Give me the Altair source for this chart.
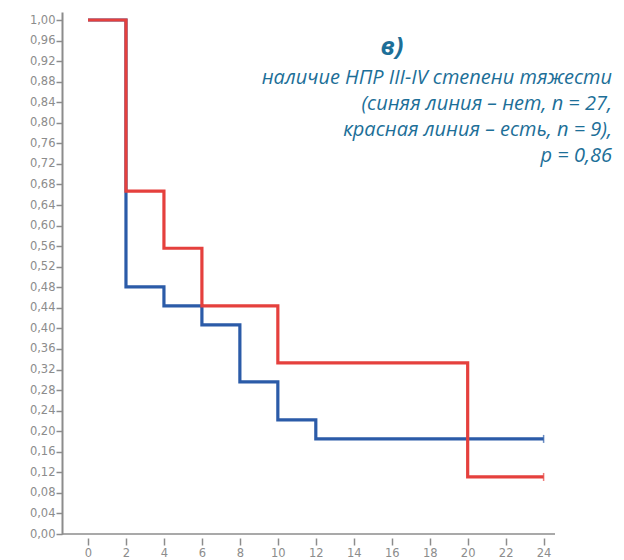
import altair as alt
import pandas as pd

# Kaplan-Meier step data
red_time = [0, 2, 4, 6, 10, 20, 24]
red_surv = [1.00, 0.667, 0.556, 0.444, 0.333, 0.111, 0.111]
blue_time = [0, 2, 4, 6, 8, 10, 12, 24]
blue_surv = [1.00, 0.481, 0.444, 0.407, 0.296, 0.222, 0.185, 0.185]

x_ticks = list(range(0, 25, 2))
y_ticks = [round(i * 0.04, 2) for i in range(26)]

title_main = "в)"
title_lines = [
    "наличие НПР III-IV степени тяжести",
    "(синяя линия – нет, n = 27,",
    "красная линия – есть, n = 9),",
    "p = 0,86",
]

RED = "#e5403d"
BLUE = "#2b5ba8"
TEXT = "#1d6f98"
GREY = "#8c8c8c"

W, H = 493, 522
XDOM = [-1.37, 24.6]
YDOM = [0, 1.0156]

red_df = pd.DataFrame({"t": red_time, "s": red_surv})
blue_df = pd.DataFrame({"t": blue_time, "s": blue_surv})

xs = alt.Scale(domain=XDOM, nice=False, zero=False)
ys = alt.Scale(domain=YDOM, nice=False)

x_axis = alt.Axis(
    values=x_ticks,
    tickCount=13,
    title=None,
    domain=False,
    grid=False,
    offset=4,
    tickSize=7,
    tickWidth=1.5,
    tickColor=GREY,
    labelColor=GREY,
    labelFontSize=11.5,
    labelFont="DejaVu Sans",
    labelPadding=2,
    labelOverlap=False,
    labelBound=False,
)
y_axis = alt.Axis(
    values=y_ticks,
    tickCount=26,
    title=None,
    grid=False,
    domainColor=GREY,
    domainWidth=2,
    tickColor=GREY,
    tickWidth=1.5,
    tickSize=6,
    labelColor=GREY,
    labelFontSize=11.5,
    labelFont="DejaVu Sans",
    labelPadding=1,
    labelOverlap=False,
    labelBound=False,
    labelFlush=False,
    labelExpr="replace(format(datum.value, '.2f'), '.', ',')",
)


def enc(ch):
    return ch.encode(
        x=alt.X("t:Q", scale=xs, axis=x_axis),
        y=alt.Y("s:Q", scale=ys, axis=y_axis),
    )


blue_line = enc(alt.Chart(blue_df).mark_line(
    interpolate="step-after", color=BLUE, strokeWidth=3.2))
red_line = enc(alt.Chart(red_df).mark_line(
    interpolate="step-after", color=RED, strokeWidth=3.2))

blue_end = enc(alt.Chart(blue_df.tail(1)).mark_tick(
    color=BLUE, orient="vertical", size=8, thickness=1.5))
red_end = enc(alt.Chart(red_df.tail(1)).mark_tick(
    color=RED, orient="vertical", size=8, thickness=1.5))

baseline = alt.Chart(pd.DataFrame({"a": [0]})).mark_rule(
    color=GREY, strokeWidth=1.5
).encode(x=alt.value(0), x2=alt.value(W), y=alt.value(H))

head = alt.Chart(pd.DataFrame({"txt": [title_main]})).mark_text(
    font="Open Sans", fontSize=25, fontWeight="bold", fontStyle="italic",
    color=TEXT, align="center", baseline="middle"
).encode(text="txt:N", x=alt.value(330), y=alt.value(35))

subs = []
for i, line in enumerate(title_lines):
    subs.append(
        alt.Chart(pd.DataFrame({"txt": [line]})).mark_text(
            font="Open Sans", fontSize=20, fontStyle="italic",
            color=TEXT, align="right", baseline="middle"
        ).encode(text="txt:N", x=alt.value(550), y=alt.value(66 + 26 * i))
    )

chart = alt.layer(blue_line, red_line, blue_end, red_end, baseline, head, *subs).properties(
    width=W, height=H,
    background="white",
    autosize=alt.AutoSizeParams(type="none"),
    padding={"left": 54, "top": 4, "right": 60, "bottom": 30},
).configure_view(stroke=None)

chart.save("out.html", embed_options={"renderer": "svg", "actions": False})
